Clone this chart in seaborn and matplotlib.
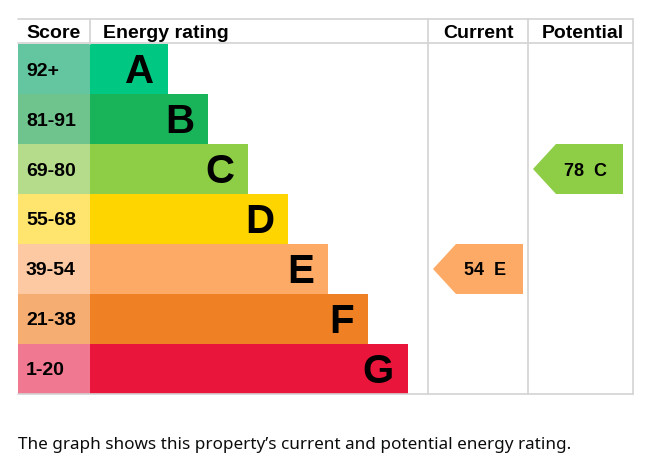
import matplotlib
matplotlib.use("Agg")
import matplotlib.pyplot as plt
import seaborn as sns

# EPC bands, top (best) to bottom
bands = ["A", "B", "C", "D", "E", "F", "G"]
score_ranges = ["92+", "81-91", "69-80", "55-68", "39-54", "21-38", "1-20"]
band_length = [78, 118, 158, 198, 238, 278, 318]
band_colors = ["#00c781", "#19b459", "#8dce46", "#ffd500", "#fcaa65", "#ef8023", "#e9153b"]
score_colors = ["#64c6a1", "#6fc38c", "#b5dc8a", "#ffe46d", "#fdc9a2", "#f5ad72", "#f07891"]

current_score, current_band = 54, "E"
potential_score, potential_band = 78, "C"

sns.set_style("white")
plt.rcParams["font.family"] = ["Liberation Sans", "DejaVu Sans"]
plt.rcParams["text.color"] = "black"

fig = plt.figure(figsize=(6.49, 4.77), dpi=100)
ax = fig.add_axes([18 / 649, (477 - 395) / 477, 615 / 649, 375 / 477])

# rating bars
sns.barplot(x=band_length, y=bands, hue=bands, palette=band_colors, legend=False,
            width=1.0, saturation=1, linewidth=0, orient="h", ax=ax)

# score column cells
score_w = 72
ax.barh(range(len(bands)), [score_w] * len(bands), left=-score_w, height=1.0,
        color=score_colors, linewidth=0)

ax.set_xlim(-score_w, 543)
ax.set_ylim(6.5, -1.0)
ax.axis("off")

grid = "#d3d3d3"
cur_x0, pot_x0, right = 338, 438, 543
for x in (cur_x0, pot_x0, right):
    ax.plot([x, x], [-1.0, 6.5], color=grid, lw=1.2, clip_on=False)
ax.plot([0, 0], [-1.0, -0.5], color=grid, lw=1.2)
for y in (-1.0, -0.52, 6.5):
    ax.plot([-score_w, right], [y, y], color=grid, lw=1.2, clip_on=False)

bold = dict(fontweight="bold", family="Liberation Sans", color="black")

# headers
hy = -0.74
ax.text(-score_w + 8, hy, "Score", ha="left", va="center", fontsize=14, **bold)
ax.text(13, hy, "Energy rating", ha="left", va="center", fontsize=14, **bold)
ax.text((cur_x0 + pot_x0) / 2, hy, "Current", ha="center", va="center", fontsize=14, **bold)
ax.text((pot_x0 + right) / 2 + 2, hy, "Potential", ha="center", va="center", fontsize=14, **bold)

for i, (b, s, L) in enumerate(zip(bands, score_ranges, band_length)):
    ax.text(-score_w + 8, i + 0.02, s, ha="left", va="center", fontsize=14, **bold)
    ax.text(L - 14, i + 0.04, b, ha="right", va="center", fontsize=29, **bold)


def rating_arrow(x0, score, band):
    i = bands.index(band)
    color = band_colors[i]
    tip, body, end = x0 + 5, x0 + 28, x0 + 95
    ax.fill([tip, body, end, end, body], [i, i - 0.5, i - 0.5, i + 0.5, i + 0.5],
            color=color, lw=0)
    ax.text((body + end) / 2 - 4, i + 0.02, f"{score}  {band}", ha="center", va="center",
            fontsize=13, **bold)


rating_arrow(cur_x0, current_score, current_band)
rating_arrow(pot_x0, potential_score, potential_band)

fig.text(18 / 649, 1 - 445 / 477, "The graph shows this property\u2019s current and potential energy rating.",
         ha="left", va="center", fontsize=12.3, family=["Noto Sans", "DejaVu Sans"], color="#0b0c0c")

fig.savefig("out.png", dpi=100)
